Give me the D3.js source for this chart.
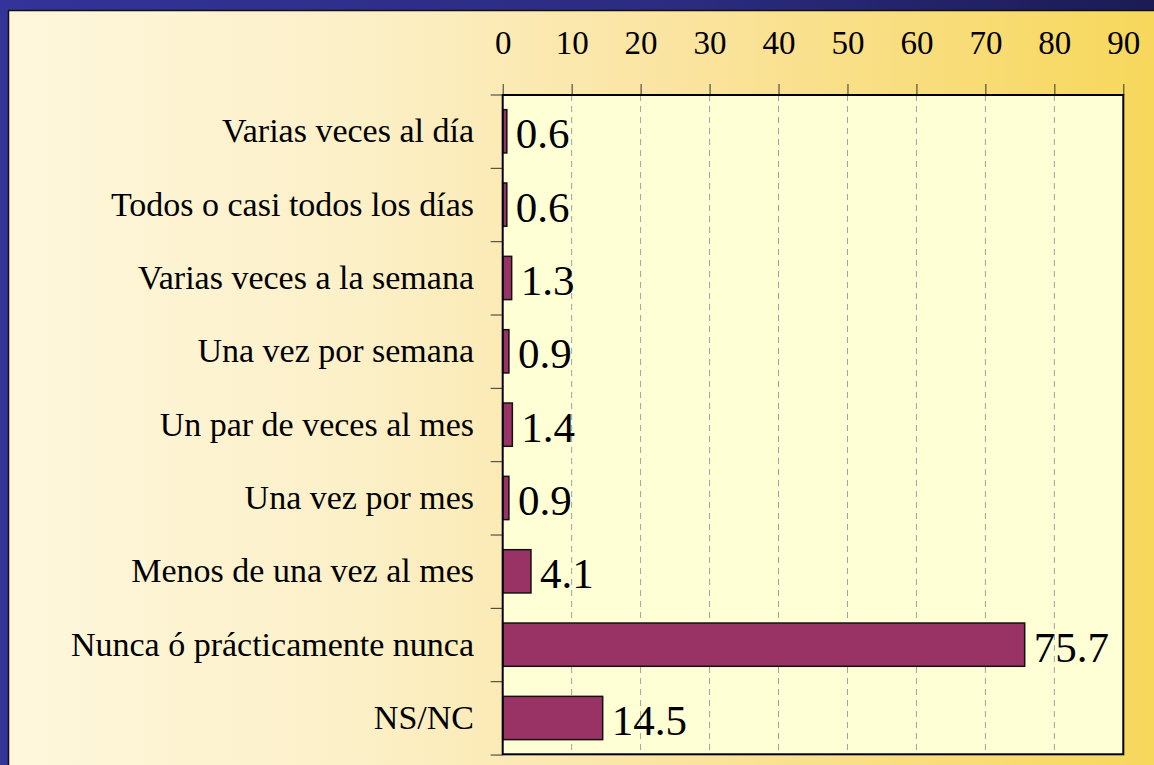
<!DOCTYPE html>
<html>
<head>
<meta charset="utf-8">
<script src="https://cdn.jsdelivr.net/npm/d3@7"></script>
<style>
  html, body { margin: 0; padding: 0; background: #333399; }
  svg { display: block; font-family: "Liberation Serif", "Times New Roman", serif; }
</style>
</head>
<body>
<svg></svg>
<script>
const [WIDTH, HEIGHT] = [1154, 765]

const categories = [
    "Varias veces al día",
    "Todos o casi todos los días",
    "Varias veces a la semana",
    "Una vez por semana",
    "Un par de veces al mes",
    "Una vez por mes",
    "Menos de una vez al mes",
    "Nunca ó prácticamente nunca",
    "NS/NC"
]
const values = [0.6, 0.6, 1.3, 0.9, 1.4, 0.9, 4.1, 75.7, 14.5]
const labels = ["0.6", "0.6", "1.3", "0.9", "1.4", "0.9", "4.1", "75.7", "14.5"]
const ticks = [0, 10, 20, 30, 40, 50, 60, 70, 80, 90]

const margin = { left: 502.7, right: WIDTH - 1123.3, top: 95, bottom: HEIGHT - 754.3 }

const svg = d3.select("svg")
    .attr("width", WIDTH)
    .attr("height", HEIGHT)
    .attr("viewBox", "0 0 " + WIDTH + " " + HEIGHT)

const defs = svg.append("defs")
const bg = defs.append("linearGradient").attr("id", "bg")
    .attr("x1", 0).attr("x2", 1).attr("y1", 0).attr("y2", 0)
bg.append("stop").attr("offset", 0).attr("stop-color", "#fef7dc")
bg.append("stop").attr("offset", 0.3).attr("stop-color", "#fcf0c8")
bg.append("stop").attr("offset", 0.6).attr("stop-color", "#fae39d")
bg.append("stop").attr("offset", 1).attr("stop-color", "#f7d75a")

const band = defs.append("linearGradient").attr("id", "band")
    .attr("x1", 0).attr("x2", 1).attr("y1", 0).attr("y2", 0)
band.append("stop").attr("offset", 0).attr("stop-color", "#333399")
band.append("stop").attr("offset", 0.6).attr("stop-color", "#2b2b80")
band.append("stop").attr("offset", 1).attr("stop-color", "#1b1b55")

// blue frame
svg.append("rect").attr("width", WIDTH).attr("height", HEIGHT).attr("fill", "#333399")
svg.append("rect").attr("width", WIDTH).attr("height", 10).attr("fill", "url(#band)")

// slide background
svg.append("rect")
    .attr("x", 8.5).attr("y", 10.5)
    .attr("width", WIDTH).attr("height", HEIGHT)
    .attr("fill", "url(#bg)")
    .attr("stroke", "#111").attr("stroke-width", 1.5)

const x = d3.scaleLinear().domain([0, 90]).range([margin.left, WIDTH - margin.right])
const y = d3.scaleBand().domain(categories)
    .range([margin.top, HEIGHT - margin.bottom])
    .paddingInner(0.41).paddingOuter(0.2)
const step = y.step()

// plot area
svg.append("rect")
    .attr("x", x(0)).attr("y", margin.top)
    .attr("width", x(90) - x(0)).attr("height", HEIGHT - margin.bottom - margin.top)
    .attr("fill", "#ffffd6")

// grid
svg.append("g")
    .selectAll("line")
    .data(ticks.filter(t => t > 0 && t < 90))
    .enter()
    .append("line")
    .attr("x1", d => x(d)).attr("x2", d => x(d))
    .attr("y1", margin.top).attr("y2", HEIGHT - margin.bottom)
    .attr("stroke", "#a0a0a0").attr("stroke-width", 1)
    .attr("stroke-dasharray", "6,5")

// top axis
const xAxis = svg.append("g")
    .attr("transform", "translate(0," + margin.top + ")")
    .call(d3.axisTop(x).tickValues(ticks).tickSize(11).tickPadding(30))
xAxis.attr("font-family", null).attr("font-size", null)
xAxis.select(".domain").remove()
xAxis.selectAll(".tick line").attr("stroke", "#333")
xAxis.selectAll(".tick text")
    .attr("font-size", 33).attr("fill", "#000")

// left ticks at category boundaries
svg.append("g")
    .selectAll("line")
    .data(d3.range(categories.length + 1))
    .enter()
    .append("line")
    .attr("x1", x(0) - 12).attr("x2", x(0))
    .attr("y1", i => margin.top + i * step).attr("y2", i => margin.top + i * step)
    .attr("stroke", "#333").attr("stroke-width", 1)

// bars
svg.append("g")
    .selectAll("rect")
    .data(values)
    .enter()
    .append("rect")
    .attr("x", x(0))
    .attr("y", (d, i) => y(categories[i]))
    .attr("width", d => x(d) - x(0))
    .attr("height", y.bandwidth())
    .attr("fill", "#993366")
    .attr("stroke", "#111").attr("stroke-width", 1.5)

// plot border
svg.append("rect")
    .attr("x", x(0)).attr("y", margin.top)
    .attr("width", x(90) - x(0)).attr("height", HEIGHT - margin.bottom - margin.top)
    .attr("fill", "none").attr("stroke", "#000").attr("stroke-width", 2)

// category labels
svg.append("g")
    .selectAll("text")
    .data(categories)
    .enter()
    .append("text")
    .attr("x", 474)
    .attr("y", d => y(d) + y.bandwidth() / 2 + 11)
    .attr("text-anchor", "end")
    .attr("font-size", 34)
    .text(d => d)

// value labels
svg.append("g")
    .selectAll("text")
    .data(values)
    .enter()
    .append("text")
    .attr("x", d => x(d) + 9)
    .attr("y", (d, i) => y(categories[i]) + y.bandwidth() / 2 + 17)
    .attr("font-size", 43)
    .text((d, i) => labels[i])
</script>
</body>
</html>
